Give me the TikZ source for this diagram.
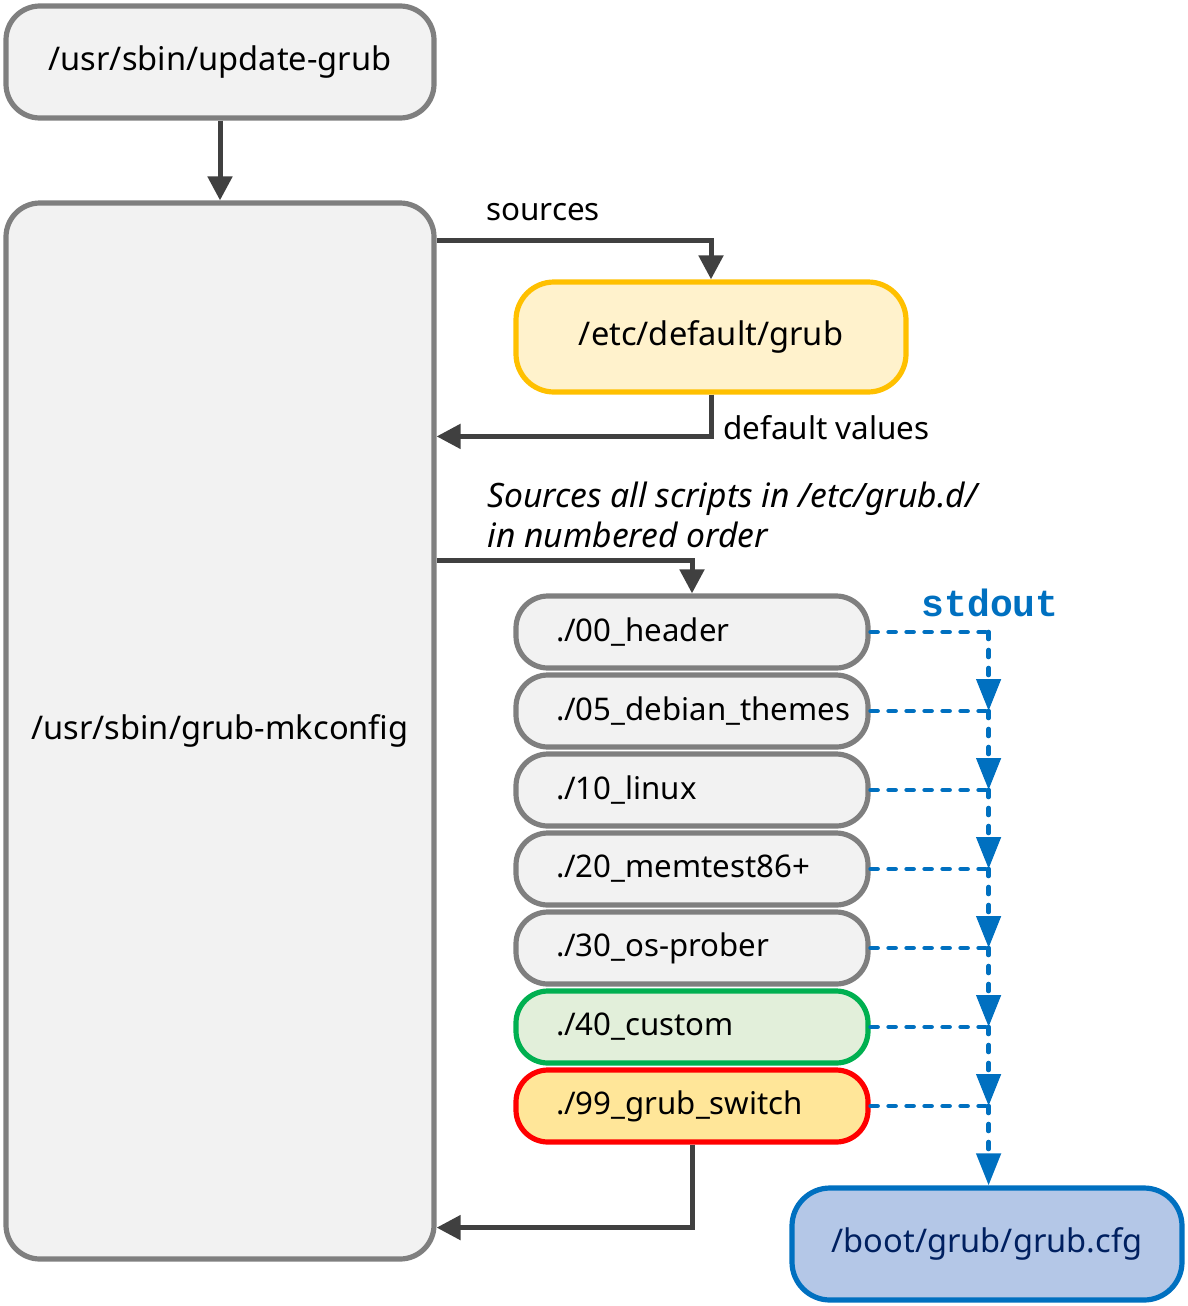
\documentclass[tikz,border=0pt]{standalone}
\usepackage{fontspec}
\setmainfont{Noto Sans}
\newfontfamily\stdfont{Liberation Mono}
\usetikzlibrary{positioning,arrows.meta}

\definecolor{boxgray}{HTML}{F2F2F2}
\definecolor{linegray}{HTML}{7F7F7F}
\definecolor{arrowgray}{HTML}{404040}
\definecolor{confline}{HTML}{FFC000}
\definecolor{conffill}{HTML}{FFF2CC}
\definecolor{customline}{HTML}{00B050}
\definecolor{customfill}{HTML}{E2EFDA}
\definecolor{switchline}{HTML}{FF0000}
\definecolor{switchfill}{HTML}{FFE699}
\definecolor{outblue}{HTML}{0070C0}
\definecolor{cfgfill}{HTML}{B4C7E7}
\definecolor{cfgtext}{HTML}{002060}

\begin{document}
\begin{tikzpicture}[x=0.5pt, y=-0.5pt,
    tool/.style={rectangle, rounded corners=17pt, draw=linegray, fill=boxgray, line width=2.6pt, minimum width=214pt, text centered, font=\fontsize{16.3}{19}\selectfont},
    script/.style={rectangle, rounded corners=16pt, draw=linegray, fill=boxgray, line width=2.6pt, text width=136pt, inner xsep=20pt, minimum height=36pt, align=left, font=\fontsize{15.6}{18}\selectfont},
    conf/.style={rectangle, rounded corners=19pt, line width=2.6pt, minimum width=195pt, minimum height=55pt, text centered, font=\fontsize{16.3}{19}\selectfont},
    note/.style={font=\fontsize{15.7}{20}\selectfont, inner sep=0pt},
    flow/.style={draw=arrowgray, line width=2.5pt, -{Triangle[length=12pt,width=12pt]}},
    stdline/.style={draw=outblue, line width=2.3pt, dash pattern=on 3.5pt off 5.5pt, line cap=round},
    stdarrow/.style={stdline, -{Triangle[length=16pt,width=12pt]}}]

\useasboundingbox (0,0) rectangle (1188,1306);

% Main tools
\node[tool, minimum height=56pt] (update) at (220,62) {/usr/sbin/update-grub};
\node[tool, minimum height=528pt] (mkconfig) at (220,731) {/usr/sbin/grub-mkconfig};

% Defaults file
\node[conf, draw=confline, fill=conffill] (default) at (711,337) {/etc/default/grub};

% Scripts in /etc/grub.d
\node[script] (s00) at (692,632) {./00\_header};
\node[script, below=0.9pt of s00] (s05) {./05\_debian\_themes};
\node[script, below=0.9pt of s05] (s10) {./10\_linux};
\node[script, below=0.9pt of s10] (s20) {./20\_memtest86+};
\node[script, below=0.9pt of s20] (s30) {./30\_os-prober};
\node[script, below=0.9pt of s30, draw=customline, fill=customfill] (s40) {./40\_custom};
\node[script, below=0.9pt of s40, draw=switchline, fill=switchfill] (s99) {./99\_grub\_switch};

% Output file
\node[conf, draw=outblue, fill=cfgfill, text=cfgtext, minimum height=56pt] (cfg) at (987,1244) {/boot/grub/grub.cfg};

% Labels
\node[note] (sourceslbl) at (543,212) {sources};
\node[note, anchor=west] (defaultlbl) at (723,428) {default values};
\node[note, anchor=north west, align=left, font=\fontsize{16.8}{20}\selectfont\itshape] (orderlbl) at (487,482) {Sources all scripts in /etc/grub.d/\\in numbered order};
\node[note, text=outblue, font=\fontsize{19}{20}\stdfont\bfseries] (stdoutlbl) at (990,603) {stdout};

% Connections
\draw[flow] (update) -- (mkconfig);
\draw[flow] ([yshift=-20pt]mkconfig.north east) -| (default.north);
\draw[flow] (default.south) |- ([yshift=-118pt]mkconfig.north east);
\draw[flow] ([yshift=-180pt]mkconfig.north east) -| (s00.north);
\draw[flow] (s99.south) |- ([yshift=17pt]mkconfig.south east);

% stdout collection
\coordinate (d00) at ([xshift=59pt]s00.east);
\coordinate (d05) at ([xshift=59pt]s05.east);
\coordinate (d10) at ([xshift=59pt]s10.east);
\coordinate (d20) at ([xshift=59pt]s20.east);
\coordinate (d30) at ([xshift=59pt]s30.east);
\coordinate (d40) at ([xshift=59pt]s40.east);
\coordinate (d99) at ([xshift=59pt]s99.east);

\draw[stdline] (s00.east) -- (d00);
\draw[stdline] (s05.east) -- (d05);
\draw[stdline] (s10.east) -- (d10);
\draw[stdline] (s20.east) -- (d20);
\draw[stdline] (s30.east) -- (d30);
\draw[stdline] (s40.east) -- (d40);
\draw[stdline] (s99.east) -- (d99);

\draw[stdarrow] (d00) -- (d05);
\draw[stdarrow] (d05) -- (d10);
\draw[stdarrow] (d10) -- (d20);
\draw[stdarrow] (d20) -- (d30);
\draw[stdarrow] (d30) -- (d40);
\draw[stdarrow] (d40) -- (d99);
\draw[stdarrow] (d99) -- (d99 |- cfg.north);

\end{tikzpicture}
\end{document}
